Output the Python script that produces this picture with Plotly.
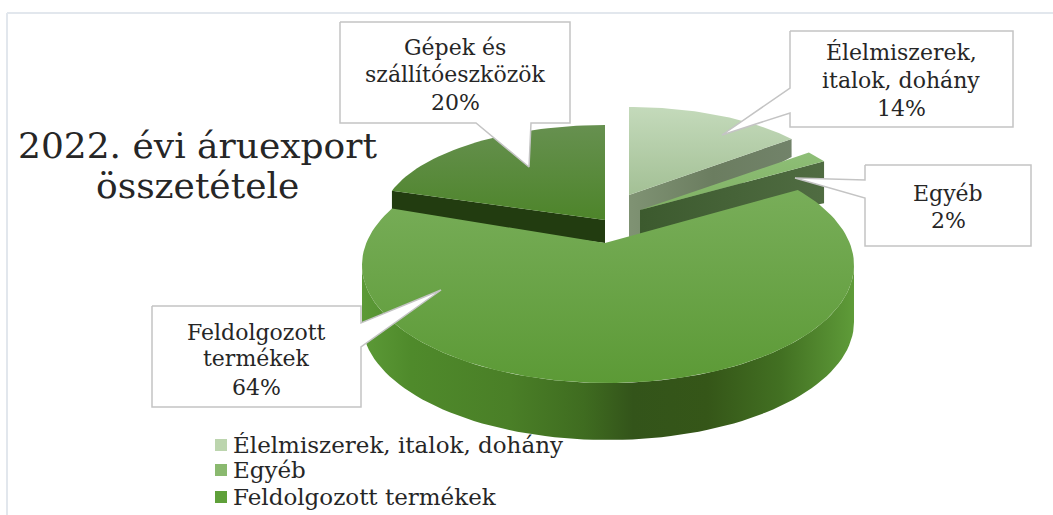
import numpy as np
import plotly.graph_objects as go

categories = ["Élelmiszerek, italok, dohány", "Egyéb", "Feldolgozott termékek", "Gépek és szállítóeszközök"]
values = [14, 2, 64, 20]
title_lines = ["2022. évi áruexport", "összetétele"]
callout_lines = [
    ["Élelmiszerek,", "italok, dohány", "14%"],
    ["Egyéb", "2%"],
    ["Feldolgozott", "termékek", "64%"],
    ["Gépek és", "szállítóeszközök", "20%"],
]

# ---- geometry / style (pixel canvas, not data) ----
SERIF = "DejaVu Serif, Liberation Serif, serif"
INK = "#262626"
# apex x, apex y, ellipse semi axes
SL = {
    0: dict(ax=629, ay=195, A=211, B=88),
    1: dict(ax=640, ay=210, A=218, B=91),
    3: dict(ax=605, ay=220, A=224, B=95),
}
BIG = dict(cx=608, cy=265, A=246, B=118, depth=57, ax=605, ay=243, rot=3.6, k=11.85)

cum = np.cumsum([0] + values) / sum(values) * 360.0
fig = go.Figure()


def poly(xs, ys, grad=None, color=None, line=None, width=1):
    kw = dict(x=list(xs) + [xs[0]], y=list(ys) + [ys[0]], mode="lines", fill="toself",
              hoverinfo="skip", showlegend=False,
              line=dict(color=line or "rgba(0,0,0,0)", width=width if line else 0))
    if grad:
        kw["fillgradient"] = grad
    else:
        kw["fillcolor"] = color
    fig.add_trace(go.Scatter(**kw))


def vgrad(c0, c1, y0, y1):
    return dict(type="vertical", colorscale=[[0, c0], [1, c1]], start=y0, stop=y1)


def hgrad(stops, x0, x1):
    return dict(type="horizontal", colorscale=stops, start=x0, stop=x1)


def arc(s, t0, t1, n=40):
    t = np.radians(np.linspace(t0, t1, n))
    return s["ax"] + s["A"] * np.sin(t), s["ay"] - s["B"] * np.cos(t)


def wedge(i, grad):
    x, y = arc(SL[i], cum[i], cum[i + 1])
    s = SL[i]
    poly([s["ax"]] + list(x), [s["ay"]] + list(y), grad=grad)


# Élelmiszerek: cut face then top
x0, y0 = arc(SL[0], cum[1], cum[1], 1)
poly([629, x0[0], x0[0], 640, 629], [195, y0[0], y0[0] + 18, 238, 238],
     grad=hgrad([[0, "#7f9273"], [0.5, "#6b7d60"], [1, "#72836a"]], 631, 795))
wedge(0, vgrad("#c4dabb", "#a3c095", 107, 195))

# Egyéb: cut face then top
x1, y1 = arc(SL[1], cum[2], cum[2], 1)
poly([640, x1[0], x1[0], 640], [210, y1[0], y1[0] + 42, 238],
     grad=hgrad([[0, "#3c5a2e"], [1, "#506c42"]], 640, 825))
wedge(1, vgrad("#8fbf78", "#7fb162", 150, 210))

# Gépek: cut face then top
x3, y3 = arc(SL[3], cum[3], cum[3], 1)
s3 = SL[3]
poly([x3[0], s3["ax"], s3["ax"], x3[0]], [y3[0], s3["ay"], s3["ay"] + 23, y3[0] + 25], color="#223c10")
wedge(3, vgrad("#66904f", "#4c8428", 127, 225))


# Feldolgozott termékek: side wall, then top
def big_xy(theta, dy=0):
    th = np.radians(theta)
    phi = theta + BIG["rot"] - BIG["k"] * np.sin(2 * th)
    p = np.radians(phi)
    return BIG["cx"] + BIG["A"] * np.sin(p), BIG["cy"] + dy - BIG["B"] * np.cos(p)


tw = np.linspace(90, 270, 80)
xt, yt = BIG["cx"] + BIG["A"] * np.sin(np.radians(tw)), BIG["cy"] - BIG["B"] * np.cos(np.radians(tw))
xb, yb = xt, yt + BIG["depth"]
poly(list(xt) + list(xb[::-1]), list(yt) + list(yb[::-1]),
     grad=hgrad([[0, "#5c9a37"], [0.1, "#4f8a2b"], [0.3, "#4a7f27"], [0.45, "#3f6c20"], [0.55, "#33541a"],
                 [0.7, "#355618"], [0.85, "#427022"], [1, "#5f9c39"]], 362, 855))
th = np.linspace(cum[2], cum[3], 160)
xr, yr = big_xy(th)
poly([BIG["ax"]] + list(xr), [BIG["ay"]] + list(yr), grad=vgrad("#79ae5a", "#5c9a36", 185, 383))

# ---- callouts (box with a pointer) ----
BOX = "#c4c4c4"
callouts = [
    dict(p=[(790, 31), (1013, 31), (1013, 127), (790, 127), (790, 113), (722, 135), (790, 88)],
         cx=901, ys=[52, 80, 108]),
    dict(p=[(865, 165), (1031, 165), (1031, 246), (865, 246), (865, 198), (795, 178), (865, 180)],
         cx=948, ys=[193, 220]),
    dict(p=[(152, 306), (361, 306), (361, 323), (441, 290), (361, 347), (361, 407), (152, 407)],
         cx=256, ys=[332, 358, 387]),
    dict(p=[(340, 22), (570, 22), (570, 123), (531, 123), (529, 167), (476, 123), (340, 123)],
         cx=455, ys=[47, 74, 102]),
]
ann = []
for c, lines in zip(callouts, callout_lines):
    px, py = zip(*c["p"])
    poly(px, py, color="white", line=BOX, width=1.5)
    for ln, yy in zip(lines, c["ys"]):
        ann.append(dict(x=c["cx"], y=yy, text=ln, showarrow=False, xanchor="center", yanchor="middle",
                        font=dict(family=SERIF, size=22, color=INK)))

# ---- title ----
for ln, yy in zip(title_lines, [145, 185]):
    ann.append(dict(x=197, y=yy, text=ln, showarrow=False, xanchor="center", yanchor="middle",
                    font=dict(family=SERIF, size=36, color=INK)))

# ---- legend (the fourth entry falls outside the picture in the reference) ----
legend_colors = ["#bcd5ae", "#8ab96f", "#5fa03a"]
legend_ys = [445, 470, 497]
fig.add_trace(go.Scatter(x=[221] * 3, y=legend_ys, mode="markers", hoverinfo="skip", showlegend=False,
                         marker=dict(symbol="square", size=12, color=legend_colors)))
for name, yy in zip(categories[:3], legend_ys):
    ann.append(dict(x=231, y=yy, text=name, showarrow=False, xanchor="left", yanchor="middle",
                    font=dict(family=SERIF, size=23, color=INK)))

frame = dict(type="line", line=dict(color="#e2e7ed", width=2))
fig.update_layout(
    width=1053, height=515, margin=dict(l=0, r=0, t=0, b=0),
    paper_bgcolor="white", plot_bgcolor="white",
    xaxis=dict(range=[0, 1053], visible=False, fixedrange=True),
    yaxis=dict(range=[515, 0], visible=False, fixedrange=True),
    annotations=ann,
    shapes=[dict(x0=7, x1=1053, y0=13, y1=13, **frame), dict(x0=7, x1=7, y0=13, y1=515, **frame)],
)
fig.write_html("out.html", config={"displayModeBar": False},
               post_script="document.body.style.margin='0';document.body.style.overflow='hidden';")
